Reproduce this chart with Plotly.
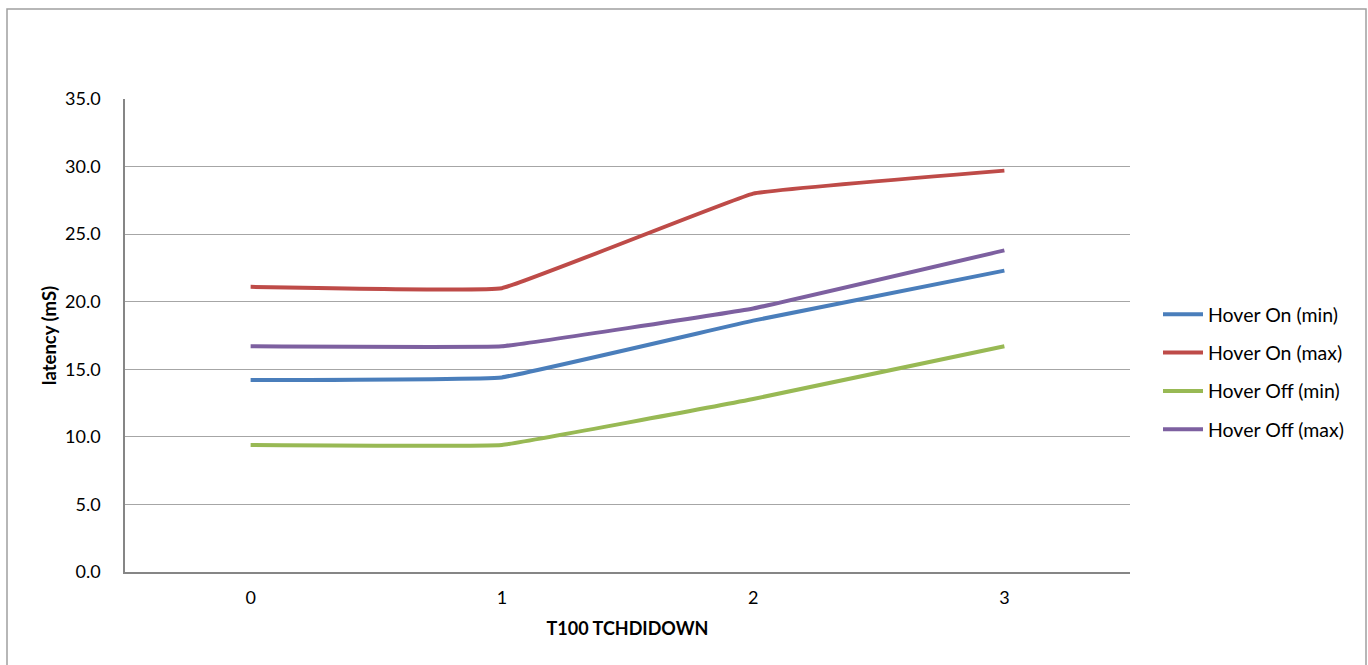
import plotly.graph_objects as go

categories = ["0", "1", "2", "3"]
series_names = ["Hover On (min)", "Hover On (max)", "Hover Off (min)", "Hover Off (max)"]
hover_on_min = [14.2, 14.4, 18.6, 22.3]
hover_on_max = [21.1, 21.0, 28.0, 29.7]
hover_off_min = [9.4, 9.4, 12.8, 16.7]
hover_off_max = [16.7, 16.7, 19.5, 23.8]
y_ticks = [0, 5, 10, 15, 20, 25, 30, 35]
y_tick_labels = ["0.0", "5.0", "10.0", "15.0", "20.0", "25.0", "30.0", "35.0"]

colors = ["#4A7EBB", "#BE4B48", "#98B954", "#7D60A0"]
values = [hover_on_min, hover_on_max, hover_off_min, hover_off_max]

fig = go.Figure()
for i, (name, vals) in enumerate(zip(series_names, values)):
    fig.add_trace(go.Scatter(
        x=categories, y=vals, name=name, mode="lines",
        line=dict(color=colors[i], width=4, shape="spline", smoothing=0.2),
        legendgroup=f"g{i}",
    ))

W, H = 1368, 665
L, T = 125, 99
R = W - 1130
B = H - 572
pw, ph = W - L - R, H - T - B

def px_x(x):
    return (x - L) / pw

def px_y(y):
    return (H - B - y) / ph

fig.update_layout(
    width=W, height=H,
    margin=dict(l=L, r=R, t=T, b=B),
    paper_bgcolor="white", plot_bgcolor="white",
    showlegend=True,
    legend=dict(
        x=px_x(1158), y=px_y(372), xanchor="left", yanchor="middle",
        font=dict(family="Lato", size=19.5, color="black"),
        tracegroupgap=10, itemwidth=40, bgcolor="rgba(0,0,0,0)",
    ),
    xaxis=dict(
        type="category", range=[-0.5, 3.5],
        showgrid=False, showline=True, linecolor="#868686", linewidth=1.5,
        ticks="", tickfont=dict(family="Lato", size=18, color="black"),
        ticklabelstandoff=9,
        title=dict(text="<b>T100 TCHDIDOWN</b>", font=dict(family="Lato", size=18, color="black"), standoff=15),
        fixedrange=True,
    ),
    yaxis=dict(
        range=[0, 35], tickvals=y_ticks, ticktext=y_tick_labels,
        showgrid=True, gridcolor="#A6A6A6", gridwidth=1,
        showline=True, linecolor="#868686", linewidth=1.5,
        zeroline=False, ticks="",
        tickfont=dict(family="Lato", size=18, color="black"),
        ticklabelstandoff=19,
        title=dict(text="<b>latency (mS)</b>", font=dict(family="Lato", size=18.5, color="black"), standoff=4),
        fixedrange=True,
    ),
    shapes=[dict(
        type="rect", xref="paper", yref="paper",
        x0=px_x(7), x1=px_x(1366),
        y0=px_y(700), y1=px_y(9),
        line=dict(color="#A0A0A0", width=1.5), layer="below",
    )],
)

fig.write_html(
    "out.html",
    config={"displayModeBar": False},
    post_script="document.body.style.margin='0';document.body.style.overflow='hidden';",
)
